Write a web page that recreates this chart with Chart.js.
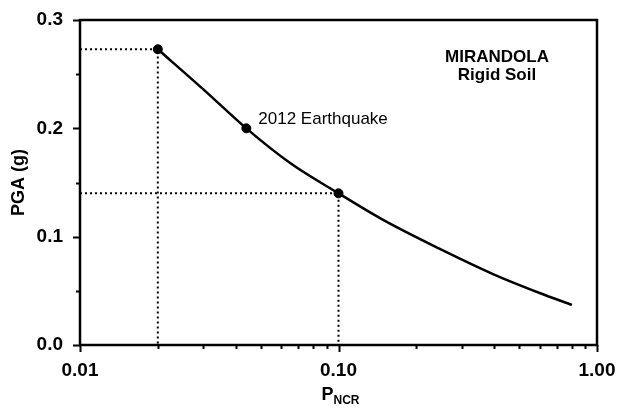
<!DOCTYPE html>
<html>
<head>
<meta charset="utf-8">
<script src="https://cdn.jsdelivr.net/npm/chart.js@4/dist/chart.umd.min.js"></script>
<style>
  html, body { margin: 0; padding: 0; background: #fff; }
  #wrap { width: 618px; height: 408px; }
</style>
</head>
<body>
<div id="wrap"><canvas id="pga" width="618" height="408"></canvas></div>
<script>
// curve (P_NCR on a log axis, PGA in g)
const curveX = [0.02, 0.03, 0.044, 0.065, 0.1, 0.15, 0.25, 0.4, 0.6, 0.8];
const curveY = [0.273, 0.236, 0.200, 0.168, 0.140, 0.115, 0.088, 0.065, 0.048, 0.037];
// marked points
const markX = [0.02, 0.044, 0.1];
const markY = [0.273, 0.200, 0.140];
// dotted guides go from axis to point to axis
const guideA = [[0.01, 0.273], [0.02, 0.273], [0.02, 0]];
const guideB = [[0.01, 0.140], [0.1, 0.140], [0.1, 0]];
// ticks
const xMajor = [0.01, 0.1, 1];
const xMinor = [0.02, 0.03, 0.04, 0.05, 0.06, 0.07, 0.08, 0.09, 0.2, 0.3, 0.4, 0.5, 0.6, 0.7, 0.8, 0.9];
const yMajor = [0, 0.1, 0.2, 0.3];
const yMinor = [0.05, 0.15, 0.25];

const FONT = '"Liberation Sans", Arial, sans-serif';

const toPts = (xs, ys) => xs.map((x, i) => ({ x: x, y: ys[i] }));
const pairPts = arr => arr.map(p => ({ x: p[0], y: p[1] }));

const ctx = document.getElementById('pga').getContext('2d');

const dotted = {
    borderColor: '#000',
    borderWidth: 2,
    borderDash: [2, 3],
    pointRadius: 0,
    fill: false,
    tension: 0
};

const decorations = {
    id: 'decorations',
    afterDraw(chart) {
        const c = chart.ctx;
        const a = chart.chartArea;
        const xs = chart.scales.x;
        const ys = chart.scales.y;
        c.save();
        c.strokeStyle = '#000';
        c.lineWidth = 2.5;
        c.strokeRect(a.left, a.top, a.right - a.left, a.bottom - a.top);

        c.lineWidth = 2;
        c.beginPath();
        yMajor.forEach(v => {
            const p = Math.round(ys.getPixelForValue(v)) + 0.5;
            c.moveTo(a.left - 7, p); c.lineTo(a.left, p);
        });
        yMinor.forEach(v => {
            const p = Math.round(ys.getPixelForValue(v)) + 0.5;
            c.moveTo(a.left - 4, p); c.lineTo(a.left, p);
        });
        xMajor.forEach(v => {
            const p = Math.round(xs.getPixelForValue(v)) + 0.5;
            c.moveTo(p, a.bottom); c.lineTo(p, a.bottom + 7);
        });
        xMinor.forEach(v => {
            const p = Math.round(xs.getPixelForValue(v)) + 0.5;
            c.moveTo(p, a.bottom); c.lineTo(p, a.bottom + 4);
        });
        c.stroke();

        c.fillStyle = '#000';
        c.textBaseline = 'middle';
        // x title with subscript
        c.font = 'bold 18px ' + FONT;
        const pw = c.measureText('P').width;
        c.font = 'bold 12px ' + FONT;
        const sw = c.measureText('NCR').width;
        const cx = (a.left + a.right) / 2 - (pw + sw) / 2 + 2;
        c.textAlign = 'left';
        c.font = 'bold 18px ' + FONT;
        c.fillText('P', cx, 395);
        c.font = 'bold 12px ' + FONT;
        c.fillText('NCR', cx + pw, 401);

        // annotations
        c.textAlign = 'center';
        c.font = 'bold 17px ' + FONT;
        c.fillText('MIRANDOLA', 497, 57);
        c.fillText('Rigid Soil', 497, 75);
        c.textAlign = 'left';
        c.font = '17px ' + FONT;
        c.fillText('2012 Earthquake', xs.getPixelForValue(0.044) + 12, ys.getPixelForValue(0.2) - 9);
        c.restore();
    }
};

new Chart(ctx, {
    type: 'line',
    data: {
        datasets: [
            Object.assign({ data: pairPts(guideA) }, dotted),
            Object.assign({ data: pairPts(guideB) }, dotted),
            {
                data: toPts(curveX, curveY),
                borderColor: '#000',
                borderWidth: 2.5,
                pointRadius: 0,
                cubicInterpolationMode: 'monotone',
                fill: false
            },
            {
                data: toPts(markX, markY),
                showLine: false,
                pointRadius: 4.5,
                pointBackgroundColor: '#000',
                pointBorderColor: '#000'
            }
        ]
    },
    options: {
        responsive: false,
        animation: false,
        layout: { padding: { top: 20, right: 21, left: 0, bottom: 0 } },
        plugins: { legend: { display: false }, tooltip: { enabled: false } },
        scales: {
            x: {
                type: 'logarithmic',
                min: 0.01,
                max: 1,
                grid: { display: false, drawTicks: false },
                border: { display: false },
                afterFit(scale) {
                    scale.height = 63;
                    scale.paddingLeft = 0;
                    scale.paddingRight = 0;
                },
                ticks: {
                    autoSkip: false,
                    maxRotation: 0,
                    padding: 14,
                    color: '#000',
                    font: { family: FONT, size: 19, weight: 'bold' },
                    callback: v => xMajor.some(m => Math.abs(m - v) < 1e-9) ? Number(v).toFixed(2) : ''
                }
            },
            y: {
                min: 0,
                max: 0.3,
                grid: { display: false, drawTicks: false },
                border: { display: false },
                afterFit(scale) {
                    scale.width = 80;
                    scale.paddingTop = 0;
                    scale.paddingBottom = 0;
                },
                title: {
                    display: true,
                    text: 'PGA (g)',
                    color: '#000',
                    padding: { top: 8, bottom: 0 },
                    font: { family: FONT, size: 18, weight: 'bold' }
                },
                ticks: {
                    stepSize: 0.1,
                    padding: 17,
                    color: '#000',
                    font: { family: FONT, size: 19, weight: 'bold' },
                    callback: v => Number(v).toFixed(1)
                }
            }
        }
    },
    plugins: [decorations]
});
</script>
</body>
</html>
